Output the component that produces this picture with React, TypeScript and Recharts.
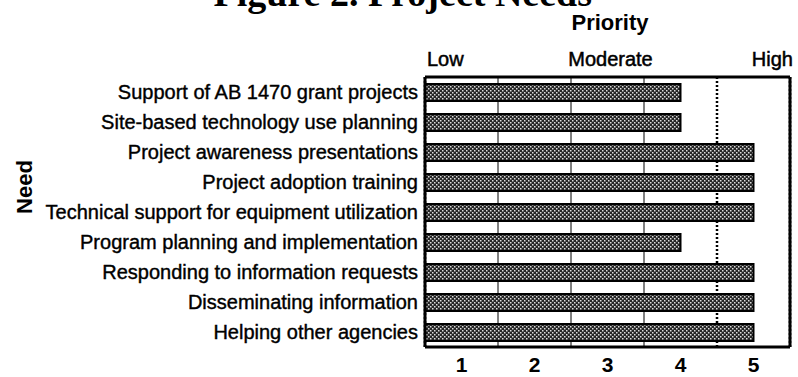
import React from "react";
import { BarChart, Bar, XAxis, YAxis, CartesianGrid } from "recharts";

const categories = [
  "Support of AB 1470 grant projects",
  "Site-based technology use planning",
  "Project awareness presentations",
  "Project adoption training",
  "Technical support for equipment utilization",
  "Program planning and implementation",
  "Responding to information requests",
  "Disseminating information",
  "Helping other agencies",
];
const priorities = [4, 4, 5, 5, 5, 4, 5, 5, 5];
const bottomTicks = [1, 2, 3, 4, 5];
const topTickValues = [0.5, 3, 5.5];
const topTickLabels = ["Low", "Moderate", "High"];
const solidGrid = [1.5, 2.5, 3.5];
const dottedGrid = [4.5];
const domain: [number, number] = [0.5, 5.5];

const data = categories.map((name, i) => ({ name, value: priorities[i] }));

const FONT = "'Liberation Sans', Arial, Helvetica, sans-serif";

const TopTick = (props: any) => {
  const { x, y, payload } = props;
  const idx = topTickValues.indexOf(payload.value);
  const anchor = idx === 0 ? "start" : idx === 2 ? "end" : "middle";
  const dx = idx === 0 ? 2 : 3;
  return (
    <text
      x={x + dx}
      y={y}
      textAnchor={anchor}
      fontSize={20}
      fill="#000"
      stroke="#000"
      strokeWidth={0.5}
      fontFamily={FONT}
    >
      {topTickLabels[idx]}
    </text>
  );
};

export default function App() {
  return (
    <div style={{ position: "absolute", left: 0, top: 0, width: 798, height: 377, background: "#fff", fontFamily: FONT }}>
      <svg width={0} height={0} style={{ position: "absolute" }}>
        <defs>
          <pattern id="dots" width="4" height="4" patternUnits="userSpaceOnUse">
            <rect width="4" height="4" fill="#262626" />
            <rect x="0" y="0" width="1.5" height="1.5" fill="#dddddd" />
            <rect x="2" y="2" width="1.5" height="1.5" fill="#dddddd" />
          </pattern>
        </defs>
      </svg>
      <BarChart
        width={798}
        height={377}
        data={data}
        layout="vertical"
        margin={{ top: 0, right: 0, bottom: 0, left: 0 }}
        style={{ fontFamily: FONT }}
      >
        <CartesianGrid xAxisId="g1" horizontal={false} stroke="#000" strokeWidth={1} />
        <CartesianGrid xAxisId="g2" horizontal={false} stroke="#000" strokeWidth={2.5} strokeDasharray="2 2" />
        <XAxis
          type="number"
          domain={domain}
          ticks={bottomTicks}
          allowDataOverflow
          interval={0}
          height={30}
          tickLine={false}
          tickSize={0}
          tickMargin={10}
          axisLine={{ stroke: "#000", strokeWidth: 3 }}
          tick={{ fill: "#000", fontSize: 21, fontWeight: "bold" }}
        />
        <XAxis
          xAxisId="top"
          orientation="top"
          type="number"
          domain={domain}
          ticks={topTickValues}
          allowDataOverflow
          interval={0}
          height={77}
          tickLine={false}
          tickSize={0}
          tickMargin={11}
          axisLine={{ stroke: "#000", strokeWidth: 3 }}
          tick={<TopTick />}
        />
        <XAxis xAxisId="g1" type="number" domain={domain} ticks={solidGrid} allowDataOverflow interval={0} hide />
        <XAxis xAxisId="g2" type="number" domain={domain} ticks={dottedGrid} allowDataOverflow interval={0} hide />
        <YAxis
          type="category"
          dataKey="name"
          width={425}
          interval={0}
          tickLine={false}
          tickSize={0}
          tickMargin={7}
          axisLine={{ stroke: "#000", strokeWidth: 3 }}
          tick={{ fill: "#000", fontSize: 20, stroke: "#000", strokeWidth: 0.4 }}
        />
        <YAxis
          yAxisId="right"
          orientation="right"
          type="category"
          dataKey="name"
          width={8}
          tick={false}
          tickLine={false}
          axisLine={{ stroke: "#000", strokeWidth: 3 }}
        />
        <Bar
          dataKey="value"
          fill="url(#dots)"
          stroke="#000"
          strokeWidth={2}
          barSize={17}
          isAnimationActive={false}
        />
      </BarChart>
      <svg width={798} height={377} style={{ position: "absolute", left: 0, top: 0, pointerEvents: "none" }}>
        <text x={592} y={6} textAnchor="end" fontSize={38} fontWeight="bold" fontFamily="'Liberation Serif', 'Times New Roman', serif" fill="#000">
          Figure 2. Project Needs
        </text>
        <text x={610} y={30} textAnchor="middle" fontSize={22} fontWeight="bold" fill="#000" fontFamily={FONT}>
          Priority
        </text>
        <text x={32} y={187} textAnchor="middle" fontSize={22} fontWeight="bold" fill="#000" fontFamily={FONT} transform="rotate(-90 32 187)">
          Need
        </text>
      </svg>
    </div>
  );
}
